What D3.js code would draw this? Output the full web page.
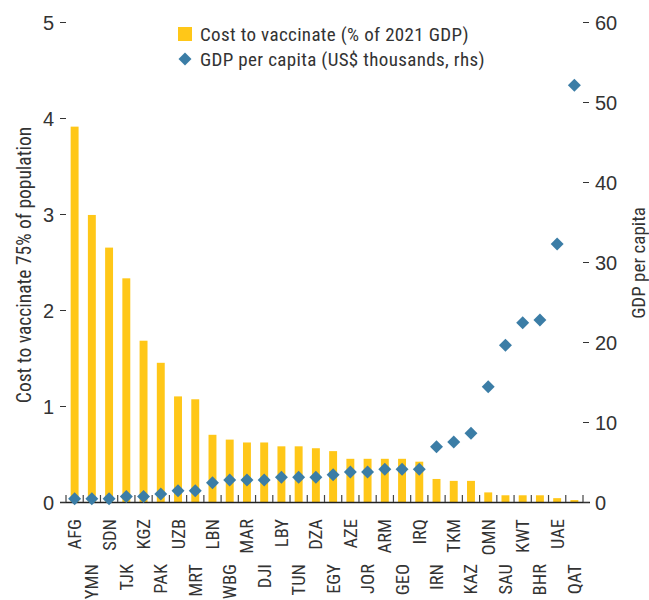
<!DOCTYPE html>
<html>
<head>
<meta charset="utf-8">
<script src="https://cdn.jsdelivr.net/npm/d3@7"></script>
<style>
  body { margin: 0; background: #fff; }
  text { font-family: "Liberation Sans Narrow", "Arial Narrow", "Roboto Condensed", sans-serif; fill: #333; }
</style>
</head>
<body>
<script>
var width = 649,
    height = 600;

// countries, in chart order
var countries = ["AFG", "YMN", "SDN", "TJK", "KGZ", "PAK", "UZB", "MRT", "LBN", "WBG",
                 "MAR", "DJI", "LBY", "TUN", "DZA", "EGY", "AZE", "JOR", "ARM", "GEO",
                 "IRQ", "IRN", "TKM", "KAZ", "OMN", "SAU", "KWT", "BHR", "UAE", "QAT"];
// cost to vaccinate 75% of population (% of 2021 GDP)
var cost = [3.91, 2.99, 2.65, 2.33, 1.68, 1.45, 1.10, 1.07, 0.70, 0.65,
            0.62, 0.62, 0.58, 0.58, 0.56, 0.53, 0.45, 0.45, 0.45, 0.45,
            0.42, 0.24, 0.22, 0.22, 0.10, 0.07, 0.07, 0.07, 0.04, 0.02];
// GDP per capita (US$ thousands, rhs)
var gdp = [0.4, 0.4, 0.4, 0.7, 0.7, 1.0, 1.4, 1.4, 2.4, 2.75,
           2.75, 2.75, 3.1, 3.1, 3.1, 3.4, 3.75, 3.75, 4.1, 4.1,
           4.1, 6.9, 7.5, 8.6, 14.4, 19.6, 22.4, 22.75, 32.25, 52.1];
var leftTicks = [0, 1, 2, 3, 4, 5],
    rightTicks = [0, 10, 20, 30, 40, 50, 60];

var barColor = "#FFC718",
    dotColor = "#3B7DA6";

var svg = d3.select("body").append("svg")
    .attr("width", width)
    .attr("height", height);

var x = d3.scaleBand().domain(countries).range([66, 583]).paddingInner(0.54).paddingOuter(0.27),
    xb = d3.scaleLinear().domain([0, countries.length]).range([66, 583]),
    y = d3.scaleLinear().domain([0, 5]).range([502, 22]),
    y2 = d3.scaleLinear().domain([0, 60]).range([502, 22]);

// bars
svg.append("g").selectAll("rect")
    .data(cost)
    .join("rect")
    .attr("x", function(d, i) { return x(countries[i]); })
    .attr("width", x.bandwidth())
    .attr("y", function(d) { return y(d); })
    .attr("height", function(d) { return y(0) - y(d); })
    .attr("fill", barColor);

// baseline + category separators
svg.append("line")
    .attr("x1", 60).attr("x2", 590)
    .attr("y1", y(0) + 0.5).attr("y2", y(0) + 0.5)
    .attr("stroke", "#222").attr("stroke-width", 1.6);

svg.append("g").selectAll("line")
    .data(d3.range(countries.length + 1))
    .join("line")
    .attr("x1", function(d) { return xb(d); })
    .attr("x2", function(d) { return xb(d); })
    .attr("y1", y(0) - 7).attr("y2", y(0))
    .attr("stroke", "#444").attr("stroke-width", 1.2);

// diamonds
var diamond = d3.symbol().type(d3.symbolSquare).size(84);
svg.append("g").selectAll("path")
    .data(gdp)
    .join("path")
    .attr("d", diamond)
    .attr("transform", function(d, i) {
      return "translate(" + (x(countries[i]) + x.bandwidth() / 2) + "," + y2(d) + ") rotate(45)";
    })
    .attr("fill", dotColor);

// left axis
var leftAxis = svg.append("g")
    .attr("transform", "translate(66,0)")
    .call(d3.axisLeft(y).tickValues(leftTicks).tickFormat(d3.format("d")).tickSize(6).tickPadding(6));
leftAxis.select(".domain").remove();
leftAxis.selectAll("line").attr("stroke", "#333");
leftAxis.selectAll("text").style("font-size", "20px").attr("dy", "0.36em")
    .style("font-family", "'Liberation Sans Narrow', sans-serif").attr("fill", "#333");

// right axis
var rightAxis = svg.append("g")
    .attr("transform", "translate(583,0)")
    .call(d3.axisRight(y2).tickValues(rightTicks).tickSize(6).tickPadding(6));
rightAxis.select(".domain").remove();
rightAxis.selectAll("line").attr("stroke", "#333");
rightAxis.selectAll("text").style("font-size", "20px").attr("dy", "0.36em")
    .style("font-family", "'Liberation Sans Narrow', sans-serif").attr("fill", "#333");

// category labels, two staggered rows
svg.append("g").selectAll("text")
    .data(countries)
    .join("text")
    .attr("transform", function(d, i) {
      var cy = i % 2 === 0 ? 519 : 564;
      return "translate(" + (x(d) + x.bandwidth() / 2 + 6.5) + "," + cy + ") rotate(-90)";
    })
    .attr("text-anchor", "end")
    .style("font-size", "18.5px")
    .text(function(d) { return d; });

// axis titles
svg.append("text")
    .attr("transform", "translate(31,265) rotate(-90)")
    .attr("text-anchor", "middle")
    .style("font-size", "19.5px")
    .text("Cost to vaccinate 75% of population");

svg.append("text")
    .attr("transform", "translate(645,263) rotate(-90)")
    .attr("text-anchor", "middle")
    .style("font-size", "19px")
    .text("GDP per capita");

// legend
var legend = svg.append("g");
legend.append("rect")
    .attr("x", 178).attr("y", 27).attr("width", 14).attr("height", 14)
    .attr("fill", barColor);
legend.append("text")
    .attr("x", 200).attr("y", 41)
    .style("font-size", "19px")
    .style("letter-spacing", "0.35px")
    .text("Cost to vaccinate (% of 2021 GDP)");
legend.append("path")
    .attr("d", diamond)
    .attr("transform", "translate(185,59) rotate(45)")
    .attr("fill", dotColor);
legend.append("text")
    .attr("x", 200).attr("y", 66)
    .style("font-size", "19px")
    .style("letter-spacing", "0.35px")
    .text("GDP per capita (US$ thousands, rhs)");
</script>
</body>
</html>
